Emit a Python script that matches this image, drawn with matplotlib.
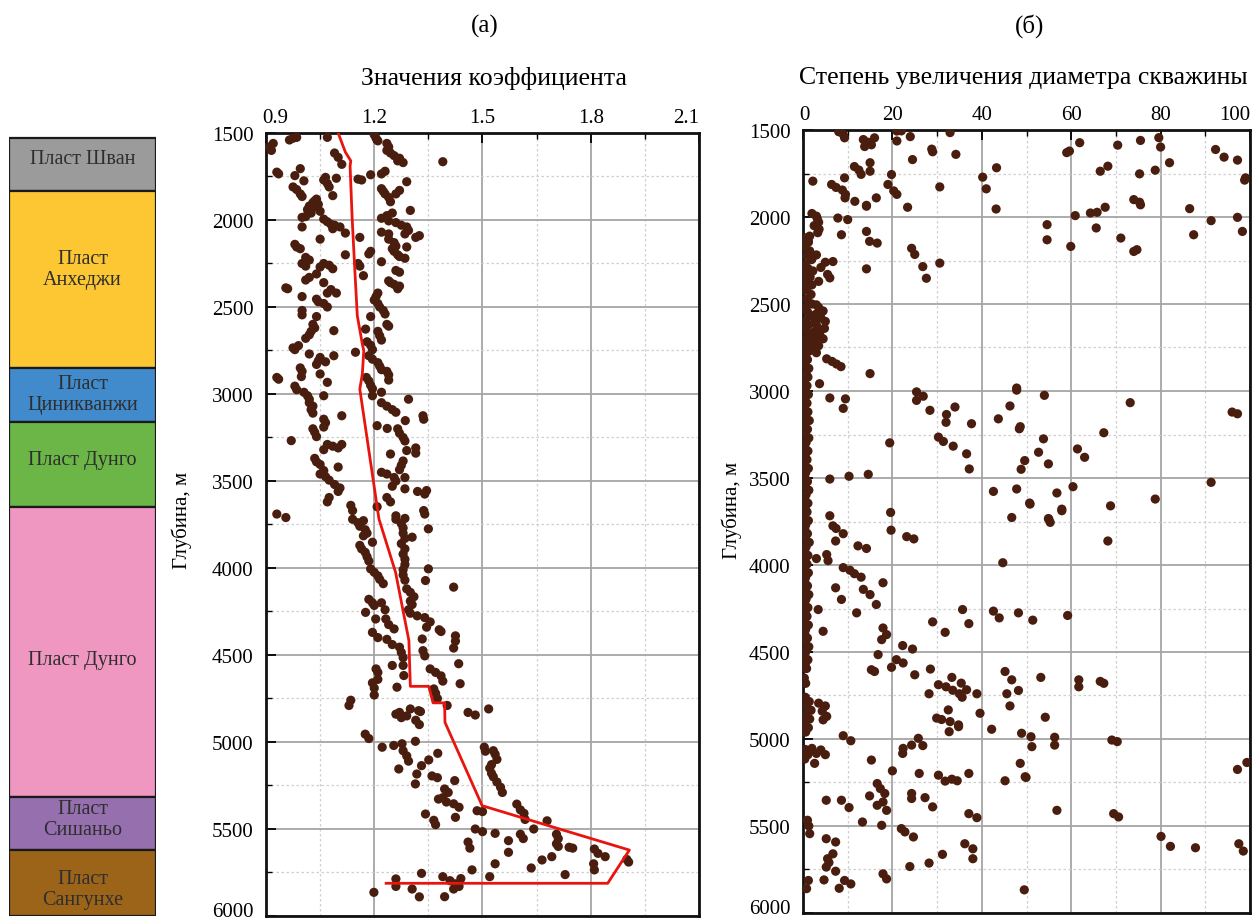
import matplotlib
matplotlib.use("Agg")
import matplotlib.pyplot as plt
from matplotlib.ticker import MultipleLocator

plt.rcParams['font.family'] = ['Liberation Serif', 'DejaVu Serif']

# ---------------- stratigraphic column ----------------
layer_names = ["Пласт Шван", "Пласт\nАнхеджи", "Пласт\nЦиникванжи", "Пласт Дунго",
               "Пласт Дунго", "Пласт\nСишаньо", "Пласт\nСангунхе"]
layer_tops = [1530, 1833, 2851, 3161, 3649, 5316, 5621]
layer_bottoms = [1833, 2851, 3161, 3649, 5316, 5621, 6000]
layer_label_depths = [1649, 2282, 3000, 3374, 4523, 5443, 5845]
layer_colors = ["#9b9b9b", "#fcc732", "#418acb", "#6cb547", "#f097c1", "#956fae", "#9b6419"]

# ---------------- panel (a): coefficient vs depth ----------------
points_a = [
    # 1500-2560 m, left group
    (1580, 0.91), (1600, 0.915), (1560, 0.92), (1540, 0.965), (1530, 0.975), (1525, 0.985),
    (1525, 1.07), (1725, 0.93), (1735, 0.935), (1705, 0.995), (1745, 0.98), (1775, 1.005),
    (1810, 0.975), (1825, 0.985), (1850, 0.995), (1865, 1.0), (1615, 1.09), (1640, 1.10),
    (1680, 1.11), (1755, 1.065), (1770, 1.06), (1790, 1.07), (1810, 1.075), (1760, 1.095),
    (1860, 1.085), (1880, 1.04), (1890, 1.035), (1900, 1.03), (1910, 1.045), (1920, 1.02),
    (1930, 1.03), (1940, 1.015), (1960, 1.025), (1950, 1.05), (1980, 1.01), (1985, 1.0),
    (1995, 1.06), (2010, 1.07), (2025, 1.08), (2030, 1.09), (2040, 1.105), (2050, 1.085),
    (2075, 1.12), (2040, 1.0), (2110, 1.05), (2140, 0.98), (2155, 0.985), (2165, 0.995),
    (2200, 1.12), (2215, 1.01), (2230, 1.02), (2250, 1.0), (2265, 1.01), (2270, 1.05),
    (2250, 1.06), (2260, 1.075), (2280, 1.085), (2310, 1.04), (2330, 1.02), (2345, 1.01),
    (2360, 1.06), (2390, 0.955), (2395, 0.96), (2400, 1.08), (2420, 1.07), (2420, 1.095),
    (2440, 1.0), (2455, 1.04), (2470, 1.045), (2480, 1.06), (2500, 1.07), (2520, 1.0),
    (2545, 1.0), (2555, 1.04),
    # 1500-2560 m, right group
    (1510, 1.2), (1530, 1.205), (1545, 1.21), (1560, 1.235), (1580, 1.24), (1600, 1.235),
    (1615, 1.245), (1630, 1.255), (1645, 1.27), (1660, 1.265), (1670, 1.28), (1665, 1.39),
    (1720, 1.23), (1735, 1.22), (1740, 1.19), (1765, 1.155), (1770, 1.165), (1780, 1.29),
    (1820, 1.22), (1835, 1.225), (1850, 1.23), (1870, 1.24), (1895, 1.245), (1850, 1.26),
    (1830, 1.27), (1945, 1.3), (1960, 1.25), (1975, 1.235), (1990, 1.22), (2005, 1.24),
    (2015, 1.26), (2030, 1.275), (2040, 1.29), (2060, 1.295), (2080, 1.285), (2070, 1.22),
    (2080, 1.24), (2090, 1.325), (2100, 1.315), (2100, 1.16), (2110, 1.24), (2130, 1.255),
    (2150, 1.26), (2165, 1.25), (2180, 1.255), (2155, 1.29), (2180, 1.19), (2195, 1.185),
    (2200, 1.265), (2210, 1.27), (2220, 1.285), (2240, 1.22), (2250, 1.155), (2265, 1.16),
    (2290, 1.26), (2300, 1.27), (2320, 1.17), (2350, 1.24), (2360, 1.245), (2370, 1.255),
    (2380, 1.27), (2395, 1.265), (2420, 1.21), (2440, 1.205), (2460, 1.2), (2480, 1.21),
    (2500, 1.215), (2520, 1.225), (2540, 1.23), (2555, 1.19),
    # 2600-3730 m, left group
    (2600, 1.03), (2620, 1.035), (2640, 1.025), (2660, 1.02), (2680, 1.01), (2636, 1.088),
    (2735, 0.975), (2745, 0.98), (2722, 0.99), (2770, 1.02), (2790, 1.05), (2810, 1.045),
    (2830, 1.04), (2815, 1.065), (2780, 1.088), (2850, 0.995), (2870, 1.0), (2900, 0.998),
    (2885, 1.05), (2933, 1.07), (2905, 0.93), (2915, 0.935), (2955, 0.98), (2975, 0.985),
    (2990, 1.005), (3010, 1.015), (3030, 1.02), (3050, 1.02), (3070, 1.03), (3090, 1.025),
    (3110, 1.03), (3010, 1.06), (3145, 1.06), (3165, 1.065), (3190, 1.06), (3125, 1.11),
    (3200, 1.03), (3220, 1.035), (3245, 1.04), (3268, 0.97), (3290, 1.07), (3300, 1.085),
    (3310, 1.1), (3290, 1.11), (3320, 1.06), (3370, 1.035), (3390, 1.04), (3405, 1.05),
    (3440, 1.06), (3420, 1.1), (3460, 1.05), (3475, 1.065), (3495, 1.075), (3520, 1.09),
    (3540, 1.105), (3560, 1.1), (3595, 1.075), (3620, 1.07), (3640, 1.135), (3670, 1.14),
    (3690, 0.93), (3710, 0.955), (3720, 1.14), (3728, 1.17),
    # 2600-3730 m, right group
    (2627, 1.176), (2640, 1.21), (2665, 1.215), (2690, 1.22), (2600, 1.235), (2610, 1.24),
    (2760, 1.148), (2700, 1.18), (2720, 1.19), (2745, 1.195), (2780, 1.185), (2800, 1.195),
    (2820, 1.21), (2840, 1.215), (2860, 1.22), (2870, 1.235), (2890, 1.24), (2920, 1.24),
    (2905, 1.178), (2925, 1.185), (2950, 1.19), (2970, 1.195), (3010, 1.195), (2990, 1.22),
    (3030, 1.295), (3050, 1.22), (3070, 1.235), (3090, 1.25), (3105, 1.26), (3125, 1.335),
    (3145, 1.337), (3182, 1.208), (3198, 1.236), (3153, 1.286), (3200, 1.265), (3225, 1.27),
    (3250, 1.28), (3270, 1.285), (3310, 1.315), (3340, 1.315), (3325, 1.29), (3345, 1.245),
    (3385, 1.28), (3410, 1.275), (3435, 1.27), (3450, 1.22), (3460, 1.235), (3480, 1.255),
    (3500, 1.26), (3530, 1.25), (3480, 1.285), (3545, 1.285), (3560, 1.32), (3575, 1.34),
    (3555, 1.345), (3595, 1.235), (3620, 1.245), (3648, 1.208), (3670, 1.337), (3690, 1.34),
    (3700, 1.26), (3715, 1.285),
    # 3720-4850 m
    (3740, 1.155), (3760, 1.16), (3780, 1.175), (3800, 1.18), (3815, 1.17), (3870, 1.16),
    (3890, 1.165), (3910, 1.175), (3935, 1.18), (3960, 1.185), (3852, 1.195), (4005, 1.19),
    (4025, 1.2), (4045, 1.21), (4065, 1.215), (4090, 1.225), (4180, 1.185), (4200, 1.195),
    (4215, 1.2), (4200, 1.22), (4240, 1.23), (4255, 1.176), (4293, 1.204), (4293, 1.232),
    (4325, 1.24), (4350, 1.255), (4370, 1.195), (4400, 1.21), (4410, 1.235), (4440, 1.25),
    (4455, 1.27), (4485, 1.275), (4515, 1.28), (4560, 1.28), (4560, 1.25), (4580, 1.205),
    (4600, 1.21), (4640, 1.21), (4660, 1.195), (4690, 1.2), (4730, 1.2), (4685, 1.263),
    (4618, 1.282), (4760, 1.135), (4790, 1.13), (4830, 1.27), (4850, 1.29), (4820, 1.323),
    (3720, 1.26), (3745, 1.275), (3770, 1.28), (3800, 1.28), (3830, 1.285), (3823, 1.305),
    (3775, 1.35), (3860, 1.275), (3890, 1.285), (3920, 1.28), (3950, 1.285), (3980, 1.285),
    (4010, 1.28), (4040, 1.28), (4070, 1.285), (4005, 1.35), (4072, 1.342), (4110, 1.42),
    (4120, 1.29), (4140, 1.3), (4165, 1.31), (4190, 1.3), (4210, 1.305), (4240, 1.295),
    (4260, 1.3), (4275, 1.319), (4285, 1.34), (4310, 1.355), (4340, 1.345), (4355, 1.38),
    (4365, 1.385), (4390, 1.425), (4420, 1.425), (4460, 1.42), (4408, 1.333), (4475, 1.335),
    (4505, 1.34), (4550, 1.434), (4580, 1.355), (4600, 1.37), (4620, 1.385), (4650, 1.39),
    (4665, 1.438), (4695, 1.365), (4720, 1.37), (4750, 1.375), (4790, 1.402), (4810, 1.3),
    (4825, 1.328), (4830, 1.46), (4845, 1.48), (4810, 1.517),
    # 4840-5900 m
    (4840, 1.26), (4860, 1.275), (4875, 1.315), (4900, 1.325), (4955, 1.175), (4980, 1.185),
    (5030, 1.222), (5020, 1.254), (5010, 1.277), (4996, 1.314), (5050, 1.28), (5080, 1.29),
    (5110, 1.295), (5155, 1.268), (5184, 1.318), (5136, 1.331), (5103, 1.351), (5065, 1.376),
    (5241, 1.314), (5195, 1.36), (5205, 1.375), (5222, 1.423), (5270, 1.395), (5290, 1.405),
    (5320, 1.39), (5345, 1.4), (5355, 1.42), (5375, 1.435), (5328, 1.378), (5414, 1.342),
    (5450, 1.365), (5475, 1.37), (5433, 1.425), (5395, 1.485), (5400, 1.5), (5500, 1.48),
    (5515, 1.5), (5525, 1.535), (5575, 1.46), (5610, 1.465), (5735, 1.471), (5774, 1.52),
    (5700, 1.535), (5567, 1.572), (5634, 1.572), (5530, 1.605), (5555, 1.613), (5724, 1.635),
    (5678, 1.665), (5659, 1.692), (5030, 1.505), (5050, 1.53), (5070, 1.535), (5100, 1.54),
    (5130, 1.525), (5150, 1.52), (5180, 1.525), (5200, 1.53), (5230, 1.54), (5260, 1.55),
    (5290, 1.555), (5053, 1.508), (5357, 1.595), (5390, 1.605), (5410, 1.615), (5445, 1.618),
    (5500, 1.642), (5453, 1.679), (5530, 1.705), (5555, 1.71), (5585, 1.705), (5600, 1.71),
    (5605, 1.74), (5610, 1.75), (5615, 1.81), (5640, 1.82), (5659, 1.84), (5700, 1.808),
    (5735, 1.81), (5675, 1.9), (5690, 1.905), (5762, 1.729), (5864, 1.199), (5787, 1.26),
    (5830, 1.26), (5845, 1.305), (5890, 1.325), (5755, 1.331), (5774, 1.39), (5889, 1.395),
    (5797, 1.41), (5815, 1.425), (5830, 1.435), (5845, 1.42), (5785, 1.44),
]
depth_a = [p[0] for p in points_a]
coef_a = [p[1] for p in points_a]

# trend of the coefficient with depth
trend_depth = [1500, 1610, 1660, 1690, 2000, 2280, 2550, 2713, 2750, 2885, 2972, 3718, 4024,
               4417, 4680, 4680, 4775, 4775, 4887, 5366, 5621, 5812, 5812]
trend_coef = [1.100, 1.120, 1.135, 1.133, 1.139, 1.146, 1.153, 1.167, 1.171, 1.167, 1.160,
              1.213, 1.259, 1.296, 1.300, 1.351, 1.363, 1.395, 1.396, 1.499, 1.907, 1.847, 1.233]

# ---------------- panel (b): borehole enlargement vs depth ----------------
points_b = [
    # 1500-2000 m
    (1510, 8.0), (1525, 9.0), (1545, 9.3), (1555, 13.5), (1570, 14.5), (1595, 13.8),
    (1585, 15.3), (1545, 16.0), (1506, 21.0), (1505, 22.0), (1563, 21.0), (1538, 24.0),
    (1670, 24.5), (1610, 28.8), (1625, 29.0), (1515, 32.9), (1640, 34.2), (1710, 11.5),
    (1730, 12.5), (1755, 13.0), (1688, 15.0), (1737, 15.0), (1938, 14.2), (1756, 19.8),
    (1794, 2.2), (1813, 6.4), (1830, 7.4), (1845, 8.8), (1870, 9.5), (1890, 9.4),
    (1775, 9.3), (1910, 11.6), (1933, 14.2), (1890, 16.4), (1813, 19.0), (1850, 20.3),
    (1870, 21.0), (1944, 23.4), (1827, 30.6), (1771, 40.2), (1838, 41.0), (1717, 43.3),
    (1954, 43.2), (1630, 59.0), (1621, 59.6), (1573, 61.9), (1737, 66.5), (1708, 68.2),
    (1587, 70.4), (1560, 75.5), (1752, 75.3), (1900, 74.0), (1915, 75.3), (1930, 75.5),
    (1544, 79.6), (1598, 80.0), (1731, 78.8), (1688, 82.0), (1952, 86.5), (1612, 92.3),
    (1656, 94.2), (1673, 97.2), (1788, 98.8), (1775, 99.0), (1944, 67.6), (1973, 65.8),
    (1977, 64.3), (1992, 60.9),
    # 2000-2500 m
    (1980, 2.0), (1995, 3.0), (2010, 3.2), (2030, 3.5), (2050, 2.5), (2070, 3.6),
    (2090, 3.3), (2110, 1.5), (2140, 1.2), (2006, 7.8), (2015, 10.0), (2102, 8.6),
    (2083, 14.2), (2140, 14.9), (2150, 16.6), (2180, 24.3), (2215, 25.0), (2285, 26.8),
    (2352, 27.6), (2265, 30.6), (2298, 14.2), (2044, 54.6), (2131, 54.6), (2169, 59.9),
    (2063, 65.6), (2121, 71.1), (2198, 74.0), (2188, 74.7), (2102, 87.4), (2021, 91.3),
    (2002, 97.2), (2083, 98.3), (2218, 3.0), (2240, 2.0), (2260, 5.0), (2290, 4.0),
    (2310, 2.2), (2330, 5.5), (2350, 6.0), (2370, 3.5), (2390, 2.0), (2256, 6.7),
    # 2500-3000 m
    (2500, 2.0), (2520, 3.5), (2540, 4.5), (2560, 2.8), (2580, 4.0), (2600, 5.0),
    (2620, 3.0), (2640, 4.8), (2660, 2.5), (2680, 3.8), (2700, 4.5), (2720, 2.2),
    (2740, 3.5), (2760, 1.8), (2780, 3.0), (2815, 5.3), (2830, 6.5), (2845, 7.5),
    (2860, 8.5), (2900, 15.0), (2958, 3.7),
    # 3000-3750 m
    (3040, 6.0), (3045, 9.5), (3100, 9.0), (3005, 25.4), (3030, 26.9), (3054, 25.4),
    (3111, 28.4), (3092, 34.0), (3135, 32.1), (3180, 32.0), (3188, 37.7), (3160, 43.7),
    (3086, 46.3), (2983, 47.8), (2995, 47.8), (3217, 48.4), (3205, 48.6), (3025, 54.0),
    (3275, 53.8), (3240, 67.3), (3067, 73.2), (3121, 96.0), (3131, 97.2), (3298, 19.4),
    (3265, 30.3), (3290, 31.4), (3317, 33.6), (3361, 36.6), (3448, 37.2), (3577, 42.6),
    (3563, 47.8), (3400, 49.6), (3450, 48.8), (3352, 52.7), (3419, 54.9), (3333, 61.4),
    (3381, 63.0), (3550, 60.4), (3650, 50.8), (3586, 56.8), (3679, 57.9), (3660, 68.8),
    (3621, 78.8), (3525, 91.3), (3506, 6.0), (3490, 10.3), (3479, 14.6), (3717, 6.0),
    (3698, 19.6), (3727, 46.7), (3733, 54.9),
    # 3750-4500 m
    (3775, 6.7), (3790, 7.4), (3820, 9.0), (3800, 19.7), (3837, 23.2), (3850, 24.8),
    (3862, 7.3), (3890, 12.3), (3905, 14.2), (3963, 3.0), (3940, 5.3), (3975, 5.6),
    (3987, 44.7), (3737, 55.0), (3755, 55.3), (3688, 57.9), (3862, 68.2), (3644, 50.7),
    (4015, 9.0), (4030, 10.5), (4050, 11.5), (4070, 13.0), (4131, 7.3), (4198, 8.6),
    (4275, 12.0), (4140, 13.5), (4170, 15.0), (4227, 16.4), (4102, 17.9), (4256, 3.4),
    (4381, 4.5), (4362, 17.9), (4429, 17.6), (4400, 18.7), (4463, 22.3), (4483, 24.5),
    (4327, 29.0), (4387, 31.8), (4256, 35.7), (4337, 37.1), (4265, 42.6), (4304, 43.9),
    (4275, 48.2), (4317, 51.4), (4290, 59.2),
    # 4500-5000 m
    (4515, 16.8), (4602, 15.3), (4612, 16.0), (4588, 19.8), (4544, 20.9), (4563, 22.4),
    (4631, 25.0), (4598, 28.5), (4740, 28.2), (4688, 30.3), (4700, 32.0), (4720, 33.5),
    (4740, 35.0), (4760, 35.6), (4646, 33.3), (4679, 35.4), (4717, 36.6), (4740, 38.9),
    (4833, 32.5), (4880, 29.9), (4888, 31.0), (4900, 32.9), (4919, 34.8), (4929, 34.8),
    (4958, 32.7), (4852, 39.6), (4944, 42.2), (4612, 45.2), (4660, 46.7), (4740, 45.6),
    (4810, 46.3), (4721, 48.2), (4967, 48.9), (4987, 51.0), (4646, 53.2), (4875, 54.2),
    (4660, 61.7), (4700, 61.7), (4669, 66.5), (4680, 67.3), (4794, 3.5), (4810, 5.0),
    (4840, 4.3), (4870, 5.3), (4890, 4.5), (4981, 9.0),
    # 5000-5900 m
    (5044, 51.2), (5140, 48.6), (5217, 49.7), (4990, 56.3), (5035, 56.3), (5006, 69.1),
    (5015, 70.3), (5410, 56.8), (5429, 69.5), (5448, 70.6), (5054, 2.0), (5083, 3.0),
    (5063, 4.0), (5090, 5.0), (5140, 2.6), (5010, 10.7), (5121, 15.3), (5183, 20.0),
    (5083, 22.3), (5054, 22.4), (5035, 24.3), (4996, 25.8), (5038, 26.8), (5198, 26.0),
    (5208, 30.3), (5242, 31.8), (5231, 33.3), (5240, 34.5), (5198, 37.1), (5240, 45.2),
    (5221, 49.9), (5327, 14.9), (5256, 16.6), (5285, 17.3), (5313, 18.3), (5381, 16.6),
    (5410, 18.7), (5362, 17.9), (5352, 5.2), (5352, 8.6), (5394, 10.3), (5477, 13.3),
    (5496, 17.6), (5313, 24.3), (5337, 27.3), (5342, 24.3), (5390, 29.0), (5429, 37.1),
    (5452, 38.9), (5515, 22.0), (5534, 22.8), (5563, 24.7), (5602, 36.2), (5631, 38.0),
    (5688, 38.0), (5663, 31.2), (5713, 28.2), (5733, 23.9), (5573, 5.2), (5592, 7.3),
    (5660, 6.7), (5688, 5.5), (5710, 5.8), (5736, 5.2), (5760, 7.3), (5810, 4.7),
    (5858, 8.1), (5813, 9.3), (5833, 10.7), (5775, 17.9), (5804, 18.7), (5467, 1.0),
    (5500, 1.3), (5544, 1.5), (5813, 1.2), (5860, 0.8), (5867, 49.5), (5560, 80.1),
    (5617, 82.2), (5625, 87.8), (5602, 97.5), (5644, 98.5), (5175, 97.2), (5135, 99.3),
]
# near-zero enlargement band along the left edge
band_b = [
    (2120, 0.6), (2145, 1.2), (2170, 0.4), (2195, 1.5), (2220, 0.8), (2245, 1.9), (2270, 0.5),
    (2295, 1.1), (2320, 0.3), (2345, 1.6), (2370, 0.7), (2395, 1.3), (2420, 0.4), (2445, 1.8),
    (2470, 0.9), (2495, 1.4), (2520, 0.5), (2545, 1.0), (2570, 1.7), (2595, 0.6), (2620, 1.2),
    (2645, 0.4), (2670, 1.5), (2695, 0.8), (2720, 1.1), (2745, 0.3), (2770, 1.4), (2795, 0.6),
    (2820, 1.0), (2845, 0.4), (2870, 1.3), (2895, 0.7), (2920, 1.1), (2945, 0.3), (2970, 0.9),
    (2995, 0.5), (3020, 1.2), (3045, 0.4), (3070, 0.9), (3095, 0.3), (3120, 1.1), (3145, 0.6),
    (3170, 1.4), (3195, 0.4), (3220, 1.0), (3245, 0.5), (3270, 1.3), (3295, 0.7), (3320, 0.4),
    (3345, 1.1), (3370, 0.5), (3395, 0.9), (3420, 0.3), (3445, 1.2), (3470, 0.6), (3495, 0.4),
    (3520, 1.0), (3545, 0.5), (3570, 1.3), (3595, 0.7), (3620, 0.4), (3645, 1.1), (3670, 0.5),
    (3695, 0.9), (3720, 0.3), (3745, 1.2), (3770, 0.6), (3795, 0.4), (3820, 1.0), (3845, 0.5),
    (3870, 1.4), (3895, 0.7), (3920, 0.4), (3945, 1.1), (3970, 0.5), (3995, 0.9), (4020, 0.3),
    (4045, 1.2), (4070, 0.6), (4095, 0.4), (4120, 1.0), (4145, 0.5), (4170, 1.3), (4195, 0.7),
    (4220, 0.4), (4245, 1.1), (4270, 0.5), (4295, 0.9), (4320, 0.3), (4345, 1.2), (4370, 0.6),
    (4395, 0.4), (4420, 1.0), (4445, 0.5), (4470, 1.3), (4495, 0.7), (4520, 0.4), (4545, 1.1),
    (4570, 0.5), (4595, 0.8), (4650, 0.3), (4680, 0.6), (4760, 0.5), (4785, 1.4), (4810, 0.7),
    (4835, 1.8), (4860, 0.6), (4885, 1.5), (4910, 0.4), (4935, 1.2), (4960, 0.6), (5060, 0.5),
    (5090, 1.1), (5115, 0.4),
    (2505, 3.0), (2560, 3.8), (2610, 2.6), (2655, 3.6), (2700, 2.8), (2750, 2.5),
]
points_b = points_b + band_b
depth_b = [p[0] for p in points_b]
enl_b = [p[1] for p in points_b]

# axis ticks
depth_ticks = [1500, 2000, 2500, 3000, 3500, 4000, 4500, 5000, 5500, 6000]
coef_ticks = [0.9, 1.2, 1.5, 1.8, 2.1]
coef_tick_labels = ["0.9", "1.2", "1.5", "1.8", "2.1"]
enl_ticks = [0, 20, 40, 60, 80, 100]
enl_tick_labels = ["0", "20", "40", "60", "80", "100"]

# ---------------- styling ----------------
DOT = "#4a1e0f"
RED = "#e8140e"
W, H = 1256, 920
TICK_FS = 15
fig = plt.figure(figsize=(W / 100, H / 100), dpi=100)


def px_axes(left, top, right, bottom):
    return fig.add_axes([left / W, 1 - bottom / H, (right - left) / W, (bottom - top) / H])


def style_depth_axes(ax, xmin, xmax, xticks, xlabels, xminor):
    ax.set_xlim(xmin, xmax)
    ax.set_ylim(6000, 1500)
    ax.set_xticks(xticks)
    ax.xaxis.set_minor_locator(MultipleLocator(xminor))
    ax.set_yticks(depth_ticks)
    ax.yaxis.set_minor_locator(MultipleLocator(250))
    ax.tick_params(axis='both', which='both', direction='in', top=True, bottom=False,
                   left=True, right=False, labeltop=False, labelbottom=False,
                   labelleft=False)
    ax.tick_params(which='major', length=7, width=1.3)
    ax.tick_params(which='minor', length=4, width=1.0)
    ax.grid(which='major', color='#a5a5a5', linewidth=1.3, linestyle='-')
    ax.grid(which='minor', color='#cfcfcf', linewidth=0.9, linestyle=(0, (2, 2)))
    ax.set_axisbelow(True)
    for s in ax.spines.values():
        s.set_linewidth(2.0)
        s.set_color('#111111')
    # top tick labels; the outer ones are kept inside the frame width
    n = len(xticks)
    for i, (v, lab) in enumerate(zip(xticks, xlabels)):
        ha = 'left' if i == 0 else ('right' if i == n - 1 else 'center')
        dx = -3 if i == 0 else 0
        ax.annotate(lab, xy=(v, 1.0), xycoords=('data', 'axes fraction'),
                    xytext=(dx, 4), textcoords='offset points', ha=ha, va='bottom',
                    fontsize=TICK_FS, annotation_clip=False)
    # depth labels on the left
    for d in depth_ticks:
        dy = 5 if d == depth_ticks[-1] else 0
        ax.annotate(str(d), xy=(0.0, d), xycoords=('axes fraction', 'data'),
                    xytext=(-9, dy), textcoords='offset points', ha='right',
                    va='center_baseline', fontsize=TICK_FS, annotation_clip=False)


# stratigraphic column
axc = px_axes(9, 134, 156, 917)
axc.set_xlim(0, 1)
axc.set_ylim(6000, 1500)
axc.axis('off')
for name, top, bot, ly, col in zip(layer_names, layer_tops, layer_bottoms,
                                   layer_label_depths, layer_colors):
    axc.add_patch(plt.Rectangle((0, top), 1, bot - top, facecolor=col,
                                edgecolor='#1a1a1a', linewidth=1.6))
    axc.text(0.5, ly, name, ha='center', va='center', fontsize=14.5,
             color='#2e2e2e', linespacing=1.15)

# panel (a)
ax1 = px_axes(266, 134, 699, 917)
style_depth_axes(ax1, 0.9, 2.1, coef_ticks, coef_tick_labels, 0.15)
ax1.scatter(coef_a, depth_a, s=44, color=DOT, edgecolors='none', zorder=3)
ax1.plot(trend_coef, trend_depth, color=RED, linewidth=2.0, zorder=4)
ax1.set_ylabel("Глубина, м", fontsize=15)
ax1.yaxis.set_label_coords(-0.172, 0.507)

# panel (b)
ax2 = px_axes(803, 131, 1250, 914)
style_depth_axes(ax2, 0, 100, enl_ticks, enl_tick_labels, 10)
ax2.scatter(enl_b, depth_b, s=44, color=DOT, edgecolors='none', zorder=3)
ax2.set_ylabel("Глубина, м", fontsize=15)
ax2.yaxis.set_label_coords(-0.137, 0.516)

# titles
fig.text(485 / W, 1 - 26 / H, "(a)", ha='center', va='center', fontsize=18)
fig.text(1030 / W, 1 - 26 / H, "(б)", ha='center', va='center', fontsize=18)
fig.text(494 / W, 1 - 78 / H, "Значения коэффициента", ha='center', va='center',
         fontsize=18.5)
fig.text(1023 / W, 1 - 78 / H, "Степень увеличения диаметра скважины", ha='center',
         va='center', fontsize=18.5)

fig.savefig("out.png", dpi=100)
